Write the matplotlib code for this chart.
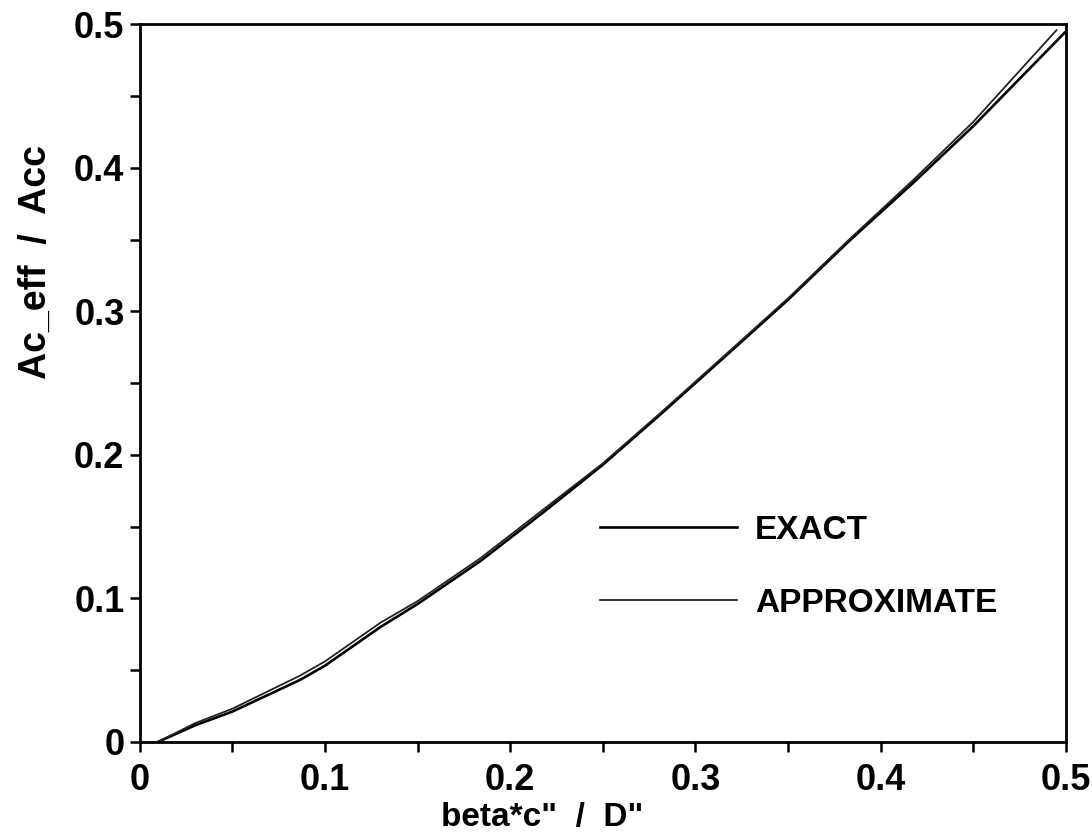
import matplotlib
matplotlib.use("Agg")
import matplotlib.pyplot as plt
from matplotlib.ticker import MultipleLocator, FuncFormatter

plt.rcParams['font.family'] = ['Liberation Sans', 'DejaVu Sans']
plt.rcParams['font.weight'] = 'bold'

# values
x_exact = [0.01, 0.03, 0.05, 0.0864, 0.1, 0.13, 0.15, 0.184, 0.219, 0.25, 0.281, 0.313,
           0.35, 0.383, 0.418, 0.45, 0.5]
y_exact = [0.0, 0.0115, 0.021, 0.043, 0.053, 0.080, 0.096, 0.126, 0.161, 0.193, 0.228,
           0.265, 0.308, 0.349, 0.390, 0.429, 0.495]
x_approx = [0.01, 0.03, 0.05, 0.0864, 0.1, 0.13, 0.15, 0.184, 0.219, 0.25, 0.281, 0.313,
            0.35, 0.383, 0.418, 0.45, 0.495]
y_approx = [0.0, 0.013, 0.023, 0.046, 0.056, 0.083, 0.098, 0.128, 0.163, 0.194, 0.229,
            0.266, 0.309, 0.350, 0.392, 0.432, 0.496]

fig = plt.figure(figsize=(10.92, 8.4), dpi=100)
ax = fig.add_axes([0.128, 0.117, 0.848, 0.854])

ax.plot(x_exact, y_exact, color='black', lw=1.9, label='EXACT')
ax.plot(x_approx, y_approx, color='#222222', lw=1.3, label='APPROXIMATE')

ax.set_xlim(0, 0.5)
ax.set_ylim(0, 0.5)
fmt = FuncFormatter(lambda v, p: '0' if abs(v) < 1e-9 else '%.1f' % v)
for axis in (ax.xaxis, ax.yaxis):
    axis.set_major_locator(MultipleLocator(0.1))
    axis.set_minor_locator(MultipleLocator(0.05))
    axis.set_major_formatter(fmt)
ax.tick_params(which='both', direction='out', length=7, width=1.8,
               labelsize=26, top=False, right=False)
ax.tick_params(axis='x', pad=8)
ax.tick_params(axis='y', pad=4)
for s in ax.spines.values():
    s.set_linewidth(2.0)

ax.set_xlabel('beta*c"  /  D"', fontsize=24, fontweight='bold')
ax.set_ylabel('Ac_eff  /  Acc', fontsize=27, fontweight='bold')
ax.xaxis.set_label_coords(0.435, -0.084)
ax.yaxis.set_label_coords(-0.093, 0.669)

ax.legend(loc='upper left', bbox_to_anchor=(0.497, 0.316), frameon=False,
          fontsize=24, handlelength=4.1, handletextpad=0.55,
          labelspacing=1.25, borderpad=0, borderaxespad=0)

fig.savefig('out.png', dpi=100)
